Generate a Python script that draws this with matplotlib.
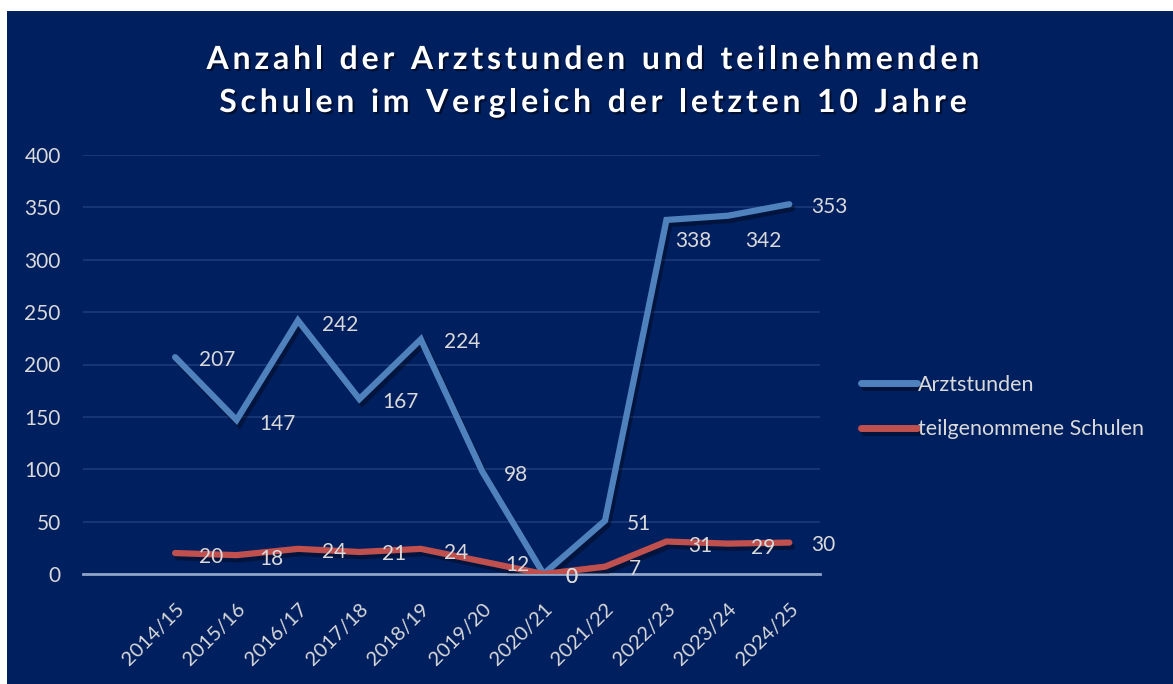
import matplotlib
matplotlib.use("Agg")
import matplotlib.pyplot as plt
import matplotlib.patheffects as pe
from matplotlib.patches import Rectangle

# ---- data ----
years = ["2014/15", "2015/16", "2016/17", "2017/18", "2018/19", "2019/20",
         "2020/21", "2021/22", "2022/23", "2023/24", "2024/25"]
arztstunden = [207, 147, 242, 167, 224, 98, 0, 51, 338, 342, 353]
schulen = [20, 18, 24, 21, 24, 12, 0, 7, 31, 29, 30]
series_names = ["Arztstunden", "teilgenommene Schulen"]
title_lines = ["Anzahl der Arztstunden und teilnehmenden",
               "Schulen im Vergleich der letzten 10 Jahre"]
yticks = [0, 50, 100, 150, 200, 250, 300, 350, 400]

# ---- style ----
NAVY = "#001F5F"
BLUE = "#4F81BD"
RED = "#C0504D"
TXT = "#D9D9D9"
GRID = "#1E3A78"
FONT = "Lato"
FS = 15

# label offsets in pixels (dx, dy) - layout only
blue_off = [(24, -1), (23, -2), (24, -2), (23, -1), (23, -1), (22, -2),
            (22, -1), (22, -1), (9, -19), (17, -23), (22, -1)]
red_off = [(24, -2), (23, -2), (24, -1), (23, 0), (23, -2), (23, -2),
           (22, -1), (24, 0), (22, -2), (23, -2), (22, 0)]

plt.rcParams['font.family'] = [FONT, 'DejaVu Sans']

fig = plt.figure(figsize=(11.73, 6.84), dpi=100, facecolor="white")
fig.patches.append(Rectangle((7 / 1173, 0), 1, (684 - 11) / 684,
                             transform=fig.transFigure, facecolor=NAVY,
                             edgecolor="none", zorder=-10))

ax = fig.add_axes([83 / 1173, 1 - 574 / 684, (820 - 83) / 1173, (574 - 155) / 684])
ax.set_facecolor("none")
x = list(range(len(years)))

shadow = [pe.SimpleLineShadow(offset=(2, -3), shadow_color="black", alpha=0.35),
          pe.Normal()]
ax.plot(x, arztstunden, color=BLUE, lw=4.5, solid_capstyle="round",
        solid_joinstyle="miter", label=series_names[0], path_effects=shadow, zorder=3)
ax.plot(x, schulen, color=RED, lw=4.5, solid_capstyle="round",
        solid_joinstyle="miter", label=series_names[1], path_effects=shadow, zorder=3)

ax.set_xlim(-1.5, 10.5)
ax.set_ylim(0, 400)
ax.set_yticks(yticks)
ax.set_xticks(x)
ax.set_xticklabels(years, rotation=45, ha="right", rotation_mode="anchor")
ax.tick_params(axis="x", length=0, pad=19, labelsize=14.5, labelcolor=TXT)
ax.tick_params(axis="y", length=0, pad=16, labelsize=FS, labelcolor=TXT)
ax.grid(axis="y", color=GRID, lw=1.2)
ax.set_axisbelow(True)
for s in ["top", "right", "left"]:
    ax.spines[s].set_visible(False)
ax.spines["bottom"].set_color("#8FA3C8")
ax.spines["bottom"].set_linewidth(2)
ax.spines["bottom"].set_zorder(2)

for xi, v, (dx, dy) in zip(x, schulen, red_off):
    ax.annotate(str(v), (xi, v), xytext=(dx, dy), textcoords="offset pixels",
                ha="left", va="center_baseline", fontsize=FS, color=TXT, zorder=5)
for xi, v, (dx, dy) in zip(x, arztstunden, blue_off):
    ax.annotate(str(v), (xi, v), xytext=(dx, dy), textcoords="offset pixels",
                ha="left", va="center_baseline", fontsize=FS, color=TXT, zorder=5)

leg = ax.legend(loc="center left", bbox_to_anchor=(842 / 1173, 1 - 407 / 684),
                bbox_transform=fig.transFigure, frameon=False, fontsize=15.5,
                labelcolor=TXT, handlelength=2.6, handletextpad=0.05,
                labelspacing=1.15)
for h in leg.get_lines():
    h.set_linewidth(5)
    h.set_solid_capstyle("round")

# title with letter spacing
fig.canvas.draw()
renderer = fig.canvas.get_renderer()
title_fp = dict(fontsize=23, fontweight="bold", color="white", family=FONT)
spacing = 3.8  # px between letters
for line, yc in zip(title_lines, [57, 100]):
    widths = []
    for ch in line:
        if ch == " ":
            t = fig.text(0, 0, "a", **title_fp)
            w = t.get_window_extent(renderer).width * 0.55
        else:
            t = fig.text(0, 0, ch, **title_fp)
            w = t.get_window_extent(renderer).width
        t.remove()
        widths.append(w)
    total = sum(widths) + spacing * (len(line) - 1)
    xpos = 593 - total / 2
    for ch, w in zip(line, widths):
        if ch != " ":
            fig.text(xpos / 1173, 1 - yc / 684, ch, ha="left", va="center_baseline",
                     path_effects=[pe.SimplePatchShadow(offset=(1.5, -1.5), shadow_rgbFace="black", alpha=0.5), pe.Normal()],
                     **title_fp)
        xpos += w + spacing

fig.savefig("out.png", dpi=100, facecolor="white")
